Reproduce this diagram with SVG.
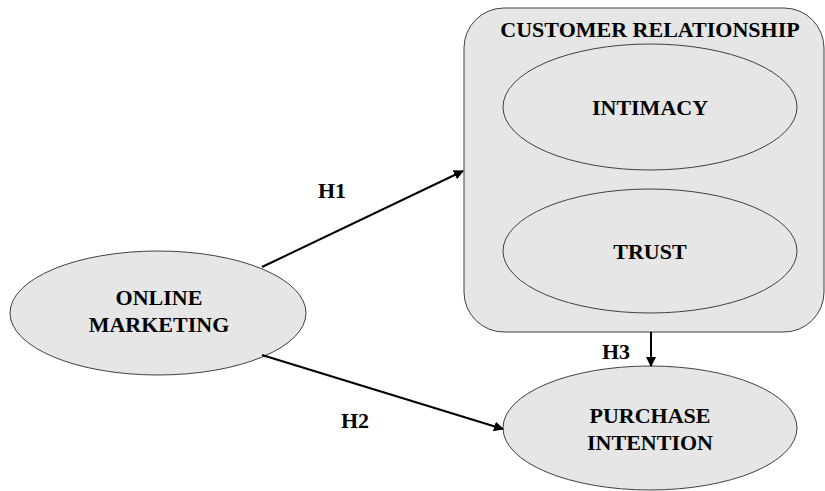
<svg xmlns="http://www.w3.org/2000/svg" width="825" height="491" viewBox="0 0 825 491">
<style>
.shape{fill:#e6e6e6;stroke:#404040;stroke-width:1}
.lbl{font-family:"Liberation Serif","Times New Roman",serif;font-weight:bold;font-size:22px;fill:#000;text-anchor:middle}
.conn{stroke:#000;stroke-width:2;fill:none;marker-end:url(#ah)}
</style>
<defs>
<marker id="ah" viewBox="0 0 10 10" refX="9" refY="5" markerWidth="5" markerHeight="5" orient="auto" markerUnits="strokeWidth">
<path d="M0,0 L10,5 L0,10 z" fill="#000"/>
</marker>
</defs>
<rect width="825" height="491" fill="#fff"/>
<g id="customer-relationship">
<rect class="shape" x="464" y="8" width="360" height="324" rx="40" ry="40"/>
<text class="lbl" x="650" y="37">CUSTOMER RELATIONSHIP</text>
</g>
<g id="intimacy">
<ellipse class="shape" cx="650" cy="107" rx="147" ry="63"/>
<text class="lbl" x="650" y="115">INTIMACY</text>
</g>
<g id="trust">
<ellipse class="shape" cx="650" cy="251" rx="147" ry="62"/>
<text class="lbl" x="650" y="259">TRUST</text>
</g>
<g id="online-marketing">
<ellipse class="shape" cx="158" cy="313" rx="148" ry="62"/>
<text class="lbl" x="159" y="305">ONLINE</text>
<text class="lbl" x="159" y="332">MARKETING</text>
</g>
<g id="purchase-intention">
<ellipse class="shape" cx="650" cy="428" rx="147" ry="62"/>
<text class="lbl" x="650" y="423">PURCHASE</text>
<text class="lbl" x="650" y="450">INTENTION</text>
</g>
<g id="connectors">
<line class="conn" x1="262" y1="267" x2="463" y2="171"/>
<line class="conn" x1="262" y1="355" x2="503" y2="429"/>
<line class="conn" x1="651" y1="332" x2="651" y2="366"/>
<text class="lbl" x="332" y="198">H1</text>
<text class="lbl" x="355" y="428">H2</text>
<text class="lbl" x="616" y="359">H3</text>
</g>
</svg>
